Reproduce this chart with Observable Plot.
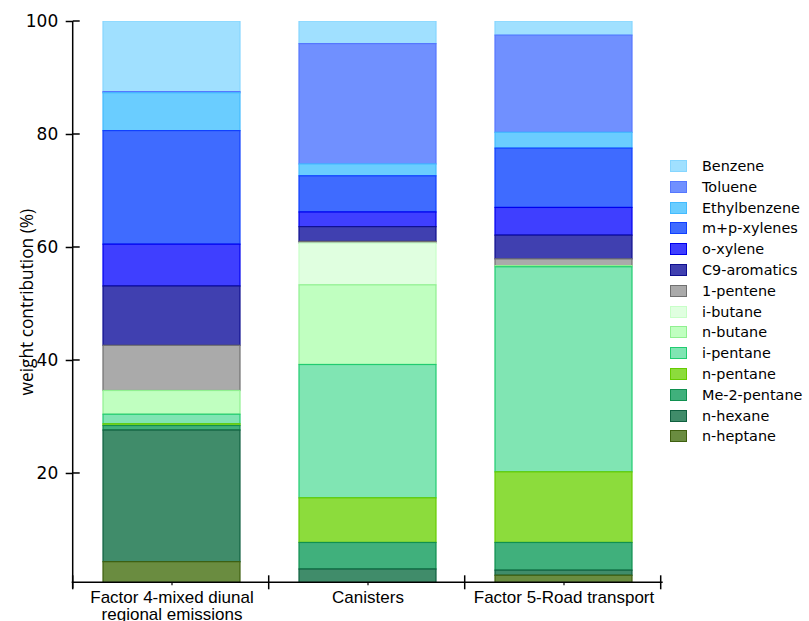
<!DOCTYPE html>
<html><head><meta charset="utf-8">
<script src="https://cdn.jsdelivr.net/npm/d3@7"></script>
<script src="https://cdn.jsdelivr.net/npm/@observablehq/plot@0.6"></script>
<style>
body{margin:0;background:#fff;}
#wrap{position:relative;width:809px;height:621px;}
#legend{position:absolute;left:670px;top:155.6px;font-family:"DejaVu Sans";font-size:14.4px;color:#000;}
.row{height:20.8px;display:flex;align-items:center;white-space:nowrap;}
.sw{width:15px;height:10px;border:1px solid;margin-right:15px;box-sizing:content-box;}
</style></head>
<body><div id="wrap"></div>
<script>
const categories = ["Factor 4-mixed diunal\nregional emissions", "Canisters", "Factor 5-Road transport"];
const species = ["Benzene","Toluene","Ethylbenzene","m+p-xylenes","o-xylene","C9-aromatics","1-pentene","i-butane","n-butane","i-pentane","n-pentane","Me-2-pentane","n-hexane","n-heptane"];
const fills   = ["#a0e0ff","#7090ff","#6acdff","#3f6bff","#3f3fff","#4040b0","#aaaaaa","#e0ffe0","#c0ffc0","#80e5b3","#8cdc3c","#40b07c","#408c6a","#6a8c40"];
const strokes = ["#86d6ff","#5577ff","#44bbff","#1040ff","#0000ee","#101090","#707070","#c8ffc8","#90f090","#20cc70","#66cc00","#109050","#106040","#3f6010"];
// weight contribution (%) per species, in species order (top of legend first)
const factor4   = [12.5, 0.2, 6.7, 20.1, 7.4, 10.5, 8.0, 0.0, 4.2, 1.7, 0.3, 0.8, 23.3, 4.3];
const canisters = [4.0, 21.3, 2.1, 6.4, 2.6, 2.6, 0.3, 7.4, 14.1, 23.6, 7.9, 4.7, 2.7, 0.3];
const road      = [2.5, 17.2, 2.8, 10.5, 4.9, 4.2, 1.2, 0.0, 0.2, 36.3, 12.5, 4.9, 0.9, 1.9];
const yTicks = [20, 40, 60, 80, 100];
const yLabel = "weight contribution (%)";

const seriesValues = [factor4, canisters, road];
const fillOf = Object.fromEntries(species.map((s,i)=>[s,fills[i]]));
const strokeOf = Object.fromEntries(species.map((s,i)=>[s,strokes[i]]));
const rows = [];
categories.forEach((c,i)=>species.forEach((s,j)=>{ if (seriesValues[i][j] > 0) rows.push({cat:c, sp:s, v:seriesValues[i][j]}); }));
const bottomFirst = species.slice().reverse();

const plot = Plot.plot({
  width: 809, height: 621,
  marginLeft: 72.7, marginRight: 146.3, marginTop: 21, marginBottom: 38.7,
  style: {background: "#fff", color: "#000", overflow: "visible"},
  x: {domain: categories, paddingInner: 0.3, paddingOuter: 0.15, axis: null},
  y: {domain: [0.65, 100], axis: null},
  color: {type: "identity"},
  marks: [
    Plot.barY(rows, Plot.stackY({x: "cat", y: "v", z: "sp", order: bottomFirst,
      fill: d => fillOf[d.sp], stroke: d => strokeOf[d.sp], strokeWidth: 1.2, clip: true})),
    Plot.axisY({ticks: yTicks, tickSize: 7, strokeWidth: 1.5, text: null, label: null}),
    Plot.text(yTicks, {y: d => d, text: d => String(d), frameAnchor: "left", textAnchor: "end", dx: -15, fontSize: 17, fontFamily: "DejaVu Sans", fill: "#000"}),
    Plot.axisX({tickSize: 3, tickPadding: 4.5, strokeWidth: 1.2, fontSize: 17, fontFamily: "Liberation Sans", label: null, lineHeight: 1.03}),
    Plot.text([yLabel], {text: d => d, frameAnchor: "left", textAnchor: "middle", rotate: -90, dx: -46, fontSize: 17.3, fontFamily: "Open Sans", fill: "#000"})
  ]
});
document.getElementById("wrap").appendChild(plot);

// axis lines and crossing ticks, positioned from the plot's own scales
const xs = plot.scale("x"), ys = plot.scale("y");
const svg = d3.select(plot);
const x0 = xs.range[0], x1 = xs.range[1];
const yb = ys.apply(ys.domain[0]), yt = ys.apply(100);
const g = svg.append("g").attr("stroke", "#000").attr("stroke-width", 1.5).attr("fill", "none");
g.append("line").attr("x1", x0 - 1).attr("x2", x1).attr("y1", yb).attr("y2", yb);
g.append("line").attr("x1", x0).attr("x2", x0).attr("y1", yt).attr("y2", yb + 6);
for (let k = 0; k <= categories.length; k++) {
  const x = x0 + k * xs.step;
  g.append("line").attr("x1", x).attr("x2", x).attr("y1", yb - 7).attr("y2", yb + 7);
}
yTicks.forEach(t => g.append("line").attr("x1", x0).attr("x2", x0 + 7).attr("y1", ys.apply(t)).attr("y2", ys.apply(t)));

// legend
const legend = document.createElement("div");
legend.id = "legend";
species.forEach((s,i)=>{
  const row = document.createElement("div"); row.className = "row";
  const sw = document.createElement("div"); sw.className = "sw";
  sw.style.background = fills[i]; sw.style.borderColor = strokes[i];
  const t = document.createElement("span"); t.textContent = s;
  row.appendChild(sw); row.appendChild(t); legend.appendChild(row);
});
document.getElementById("wrap").appendChild(legend);
</script>
</body></html>
